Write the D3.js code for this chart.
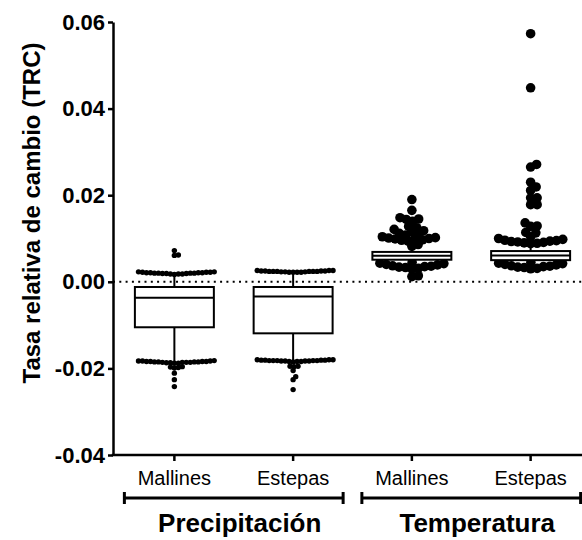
<!doctype html>
<html>
<head>
<meta charset="utf-8">
<style>
    body { margin: 0; background: #fff; }
    text { font-family: Arial, "Liberation Sans", Helvetica, sans-serif; fill: #000; }
    .box { fill: #fff; stroke: #000; stroke-width: 2; }
    .whisker, .median { stroke: #000; stroke-width: 2; }
</style>
<script src="https://d3js.org/d3.v7.min.js"></script>
</head>
<body>
<svg width="582" height="540"></svg>
<script>
// categories and groups
var categories = ["Mallines", "Estepas", "Mallines", "Estepas"];
var groupNames = ["Precipitación", "Temperatura"];
var groupMembers = [[0, 1], [2, 3]];
var yTicks = [-0.04, -0.02, 0.00, 0.02, 0.04, 0.06];

// box statistics (per category)
var q1 = [-0.0105, -0.0119, 0.0051, 0.0050];
var median = [-0.0037, -0.0034, 0.0060, 0.0061];
var q3 = [-0.0012, -0.0012, 0.0069, 0.0071];
var whiskerLow = [-0.0184, -0.0182, 0.0036, 0.0036];
var whiskerHigh = [0.0020, 0.0024, 0.0094, 0.0088];

// individual points beyond the box
var pointsPM = [0.0021, 0.0018, 0.0022, 0.0020, 0.0017, 0.0023, 0.0021, 0.0019, 0.0020, 0.0022,
                0.0018, 0.0021, 0.0020, 0.0023, 0.0019, 0.0021, 0.0018, 0.0022, 0.0020, 0.0019,
                0.0061, 0.0062, 0.0072,
                -0.0184, -0.0186, -0.0183, -0.0187, -0.0185, -0.0182, -0.0186, -0.0184, -0.0188, -0.0185,
                -0.0183, -0.0187, -0.0184, -0.0186, -0.0185, -0.0183, -0.0188, -0.0184, -0.0186, -0.0185,
                -0.0197, -0.0198, -0.0199, -0.0196, -0.0211, -0.0226, -0.0242];
var pointsPE = [0.0025, 0.0022, 0.0026, 0.0024, 0.0023, 0.0025, 0.0022, 0.0024, 0.0026, 0.0023,
                0.0024, 0.0025, 0.0022, 0.0024, 0.0026, 0.0023, 0.0025, 0.0024, 0.0022, 0.0024,
                -0.0181, -0.0183, -0.0180, -0.0184, -0.0182, -0.0181, -0.0185, -0.0183, -0.0180, -0.0182,
                -0.0184, -0.0181, -0.0183, -0.0182, -0.0180, -0.0184, -0.0182, -0.0181, -0.0183, -0.0182,
                -0.0195, -0.0195, -0.0196, -0.0205, -0.0219, -0.0226, -0.0249];
var pointsTM = [0.0030, 0.0033, 0.0036, 0.0039, 0.0042, 0.0045, 0.0031, 0.0034, 0.0037, 0.0040,
                0.0043, 0.0035,
                0.0012, 0.0014,
                0.0082, 0.0086,
                0.0094, 0.0097, 0.0100, 0.0102, 0.0096, 0.0099, 0.0101, 0.0104, 0.0098,
                0.0108, 0.0112, 0.0115, 0.0118, 0.0110, 0.0121, 0.0125, 0.0128,
                0.0140, 0.0144, 0.0145, 0.0148, 0.0165, 0.0190];
var pointsTE = [0.0030, 0.0033, 0.0036, 0.0039, 0.0042, 0.0045, 0.0031, 0.0034, 0.0037, 0.0040,
                0.0043, 0.0035,
                0.0088, 0.0090, 0.0092, 0.0094, 0.0096, 0.0098, 0.0089, 0.0091, 0.0093, 0.0095,
                0.0100, 0.0104,
                0.0113, 0.0128, 0.0136, 0.0129, 0.0114,
                0.0178, 0.0178, 0.0194, 0.0194, 0.0211, 0.0219, 0.0230, 0.0265, 0.0271, 0.0448, 0.0573];
var points = [pointsPM, pointsPE, pointsTM, pointsTE];

var svg = d3.select("svg");
var axisX = 113, axisBottom = 455, axisTop = 22, right = 582;

var y = d3.scaleLinear().domain([-0.04, 0.06]).range([axisBottom, axisTop]);
var x = d3.scaleBand().domain(d3.range(categories.length)).range([115, 590]);
var cx = function(i) { return x(i) + x.bandwidth() / 2; };
var boxW = x.bandwidth() * 0.665;

// simple beeswarm: nearest free horizontal offset for each point
function swarm(values, D) {
    var pts = values.map(function(v) { return { v: v, y: y(v), dx: 0 }; })
        .sort(function(a, b) { return a.v - b.v; });
    var placed = [];
    pts.forEach(function(p) {
        var cands = [0];
        placed.forEach(function(q) {
            var dy = p.y - q.y;
            if (Math.abs(dy) < D) {
                var dx = Math.sqrt(D * D - dy * dy);
                cands.push(q.dx + dx, q.dx - dx);
            }
        });
        cands.sort(function(a, b) { return Math.abs(a) - Math.abs(b); });
        for (var k = 0; k < cands.length; k++) {
            var c = cands[k];
            var ok = placed.every(function(q) {
                return (c - q.dx) * (c - q.dx) + (p.y - q.y) * (p.y - q.y) >= D * D - 0.01;
            });
            if (ok) { p.dx = c; break; }
        }
        placed.push(p);
    });
    return placed;
}

// zero reference line
svg.append("line")
    .attr("x1", axisX).attr("x2", right)
    .attr("y1", y(0)).attr("y2", y(0))
    .attr("stroke", "#000").attr("stroke-width", 2)
    .attr("stroke-dasharray", "2,4.3");

// points
points.forEach(function(vals, i) {
    var big = i >= 2;
    var r = big ? 4.8 : 2.7;
    var D = big ? 6.5 : 4;
    svg.append("g").selectAll("circle")
        .data(swarm(vals, D))
        .enter().append("circle")
        .attr("cx", function(d) { return cx(i) + d.dx; })
        .attr("cy", function(d) { return d.y; })
        .attr("r", r)
        .attr("fill", "#000");
});

// boxes and whiskers
var bx = svg.append("g").selectAll("g")
    .data(d3.range(categories.length))
    .enter().append("g");

bx.append("line").attr("class", "whisker")
    .attr("x1", cx).attr("x2", cx)
    .attr("y1", function(i) { return y(q3[i]); })
    .attr("y2", function(i) { return y(whiskerHigh[i]); });
bx.append("line").attr("class", "whisker")
    .attr("x1", cx).attr("x2", cx)
    .attr("y1", function(i) { return y(q1[i]); })
    .attr("y2", function(i) { return y(whiskerLow[i]); });
bx.append("rect").attr("class", "box")
    .attr("x", function(i) { return cx(i) - boxW / 2; })
    .attr("width", boxW)
    .attr("y", function(i) { return y(q3[i]); })
    .attr("height", function(i) { return y(q1[i]) - y(q3[i]); });
bx.append("line").attr("class", "median")
    .attr("x1", function(i) { return cx(i) - boxW / 2; })
    .attr("x2", function(i) { return cx(i) + boxW / 2; })
    .attr("y1", function(i) { return y(median[i]); })
    .attr("y2", function(i) { return y(median[i]); });

// y axis
var gy = svg.append("g")
    .attr("transform", "translate(" + axisX + ",0)")
    .call(d3.axisLeft(y).tickValues(yTicks)
        .tickFormat(function(d) { return d.toFixed(2); })
        .tickSize(5).tickSizeOuter(0).tickPadding(3));
gy.selectAll("path, line").attr("stroke", "#000").attr("stroke-width", 2.5);
gy.selectAll("text")
    .attr("font-size", "22px").attr("font-weight", "bold")
    .attr("font-family", "Arial, 'Liberation Sans', sans-serif");

// x axis
var gx = svg.append("g")
    .attr("transform", "translate(0," + axisBottom + ")")
    .call(d3.axisBottom(x).tickFormat(function(i) { return categories[i]; })
        .tickSize(6).tickSizeOuter(0).tickPadding(10));
gx.select(".domain").remove();
gx.selectAll("line").attr("stroke", "#000").attr("stroke-width", 2.5);
gx.selectAll("text")
    .attr("font-size", "20px")
    .attr("font-family", "Arial, 'Liberation Sans', sans-serif");
svg.append("line")
    .attr("x1", axisX - 1.25).attr("x2", right)
    .attr("y1", axisBottom).attr("y2", axisBottom)
    .attr("stroke", "#000").attr("stroke-width", 2.5);

// group brackets and labels
var bracketY = 498;
groupNames.forEach(function(name, g) {
    var a = cx(groupMembers[g][0]) - 50;
    var b = cx(groupMembers[g][groupMembers[g].length - 1]) + 50;
    var br = svg.append("g").attr("stroke", "#000").attr("stroke-width", 3);
    br.append("line").attr("x1", a).attr("x2", b).attr("y1", bracketY).attr("y2", bracketY);
    br.append("line").attr("x1", a).attr("x2", a).attr("y1", bracketY - 6).attr("y2", bracketY + 6);
    br.append("line").attr("x1", b).attr("x2", b).attr("y1", bracketY - 6).attr("y2", bracketY + 6);
    svg.append("text")
        .attr("x", (a + b) / 2 + 6)
        .attr("y", 532)
        .attr("text-anchor", "middle")
        .attr("font-size", "26px")
        .attr("font-weight", "bold")
        .text(name);
});

// y axis title
svg.append("text")
    .attr("transform", "translate(31,213) rotate(-90)")
    .attr("text-anchor", "middle")
    .attr("dominant-baseline", "central")
    .attr("font-size", "24px")
    .attr("font-weight", "bold")
    .text("Tasa relativa de cambio (TRC)");
</script>
</body>
</html>
